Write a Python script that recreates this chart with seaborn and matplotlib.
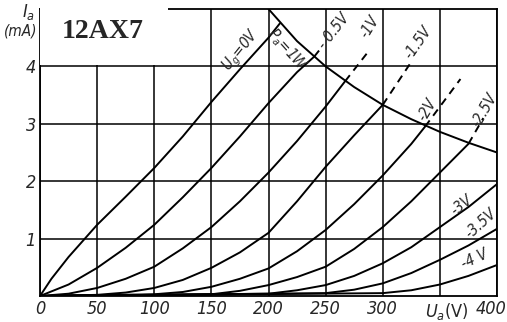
import matplotlib
matplotlib.use("Agg")
import matplotlib.pyplot as plt
import matplotlib.patches as mpatches
import matplotlib.transforms as mtransforms
import seaborn as sns

# ------------------------------
# Data (Ua in V, Ia in mA)
# ------------------------------
grid_labels = ["Ug=0V", "-0.5V", "-1V", "-1.5V", "-2V", "-2.5V", "-3V", "-3.5V", "-4 V"]

v_0 = [0, 10, 25, 50, 75, 100, 125, 150, 175, 200, 210]
i_0 = [0, 0.3, 0.68, 1.24, 1.73, 2.23, 2.78, 3.38, 3.95, 4.5, 4.75]

v_05 = [0, 25, 50, 75, 100, 125, 150, 175, 200, 225, 240]
i_05 = [0, 0.2, 0.49, 0.84, 1.24, 1.72, 2.23, 2.78, 3.36, 3.9, 4.17]

v_1 = [0, 25, 50, 75, 100, 125, 150, 175, 200, 225, 250, 267]
i_1 = [0, 0.04, 0.14, 0.3, 0.51, 0.83, 1.2, 1.65, 2.15, 2.7, 3.3, 3.74]

v_15 = [0, 50, 75, 100, 125, 150, 175, 200, 225, 250, 275, 300]
i_15 = [0, 0.02, 0.06, 0.14, 0.28, 0.49, 0.76, 1.1, 1.65, 2.25, 2.8, 3.33]

v_2 = [0, 100, 125, 150, 175, 200, 225, 250, 275, 300, 325, 337]
i_2 = [0, 0.03, 0.07, 0.16, 0.3, 0.48, 0.78, 1.15, 1.6, 2.1, 2.65, 2.95]

v_25 = [0, 150, 175, 200, 225, 250, 275, 300, 325, 350, 375]
i_25 = [0, 0.03, 0.09, 0.19, 0.33, 0.51, 0.82, 1.2, 1.65, 2.15, 2.65]

v_3 = [0, 200, 225, 250, 275, 300, 325, 350, 375, 400]
i_3 = [0, 0.04, 0.1, 0.19, 0.35, 0.57, 0.85, 1.2, 1.55, 1.95]

v_35 = [0, 250, 275, 300, 325, 350, 375, 400]
i_35 = [0, 0.05, 0.11, 0.22, 0.4, 0.63, 0.88, 1.17]

v_4 = [0, 300, 325, 350, 375, 400]
i_4 = [0, 0.05, 0.1, 0.2, 0.35, 0.54]

# max. plate dissipation Pa = 1 W
v_pa = [200, 225, 250, 275, 300, 325, 350, 375, 400]
i_pa = [5.0, 4.44, 4.0, 3.64, 3.33, 3.08, 2.86, 2.67, 2.5]

# dashed continuations above the dissipation limit
ext_05 = ([240, 246], [4.17, 4.32])
ext_1 = ([267, 289], [3.74, 4.3])
ext_15 = ([300, 324], [3.33, 4.05])
ext_2 = ([337, 368], [2.95, 3.78])
ext_25 = ([375, 388], [2.65, 3.1])

x_ticks = [0, 50, 100, 150, 200, 250, 300, 350, 400]
x_tick_labels = ["0", "50", "100", "150", "200", "250", "300", "", "400"]
y_ticks = [1, 2, 3, 4]
y_tick_labels = ["1", "2", "3", "4"]

# ------------------------------
# Style
# ------------------------------
sns.set_style("white")
plt.rcParams["font.family"] = ["DejaVu Sans"]
plt.rcParams["font.stretch"] = "condensed"
plt.rcParams["mathtext.fontset"] = "custom"
plt.rcParams["mathtext.rm"] = "DejaVu Sans:italic"
plt.rcParams["mathtext.it"] = "DejaVu Sans:italic"

fig = plt.figure(figsize=(5.07, 3.22), dpi=100)
ax = fig.add_axes([40 / 507, 26 / 322, 457 / 507, 287 / 322])

curves = [(v_0, i_0), (v_05, i_05), (v_1, i_1), (v_15, i_15), (v_2, i_2),
          (v_25, i_25), (v_3, i_3), (v_35, i_35), (v_4, i_4)]
for v, i in curves:
    sns.lineplot(x=v, y=i, ax=ax, color="black", linewidth=1.4, sort=False,
                 estimator=None, zorder=3)

sns.lineplot(x=v_pa, y=i_pa, ax=ax, color="black", linewidth=1.4, sort=False,
             estimator=None, zorder=3)

for v, i in [ext_05, ext_1, ext_15, ext_2, ext_25]:
    ax.plot(v, i, color="black", linewidth=1.4, linestyle=(0, (4, 3)), zorder=3)

ax.set_xlim(0, 400)
ax.set_ylim(0, 5)
ax.set_xticks(x_ticks)
ax.set_xticklabels(x_tick_labels)
ax.set_yticks(y_ticks)
ax.set_yticklabels(y_tick_labels)
ax.tick_params(length=0, labelsize=13, pad=3)
for lab in ax.get_xticklabels() + ax.get_yticklabels():
    lab.set_fontstyle("italic")
# last x label sits at the right edge, shift it left a little
last = ax.get_xticklabels()[-1]
last.set_transform(last.get_transform() +
                   mtransforms.ScaledTranslation(-6 / 100, 0, fig.dpi_scale_trans))
ax.grid(True, color="black", linewidth=1.1)
for s in ax.spines.values():
    s.set_color("black")
    s.set_linewidth(1.3)

# curve labels
lab_kw = dict(fontsize=11, style="italic", ha="center", va="center", zorder=5)
ax.text(176, 4.27, "$U_g$=0V", rotation=51, **lab_kw)
ax.text(216, 4.3, "$P_a$=1W", rotation=-48, **lab_kw)
ax.text(257, 4.62, "- 0.5V", rotation=52, **lab_kw)
ax.text(289, 4.69, "-1V", rotation=58, **lab_kw)
ax.text(331, 4.42, "-1.5V", rotation=55, **lab_kw)
ax.text(339, 3.24, "-2V", rotation=60, **lab_kw)
ax.text(389, 3.24, "-2.5V", rotation=60, **lab_kw)
ax.text(369, 1.58, "-3V", rotation=38, **lab_kw)
ax.text(386, 1.26, "-3.5V", rotation=42, **lab_kw)
ax.text(380, 0.64, "-4 V", rotation=25, **lab_kw)

# white title box over the top-left corner
box = mpatches.Rectangle((0, 4.03), 112, 1.2, transform=ax.transData,
                         facecolor="white", edgecolor="none", clip_on=False,
                         zorder=6)
ax.add_patch(box)
fig.text(103 / 507, 1 - 31 / 322, "12AX7", fontsize=20, fontweight="bold",
         family="Liberation Serif", ha="center", va="center")

# axis labels
fig.text(28 / 507, 1 - 12 / 322, "$I_a$", fontsize=13, ha="center", va="center")
fig.text(21 / 507, 1 - 31 / 322, "(mA)", fontsize=11, style="italic",
         ha="center", va="center")
fig.text(447 / 507, 1 - 311 / 322, "$U_a$(V)", fontsize=13, ha="center",
         va="center")

plt.savefig("out.png", dpi=100)
